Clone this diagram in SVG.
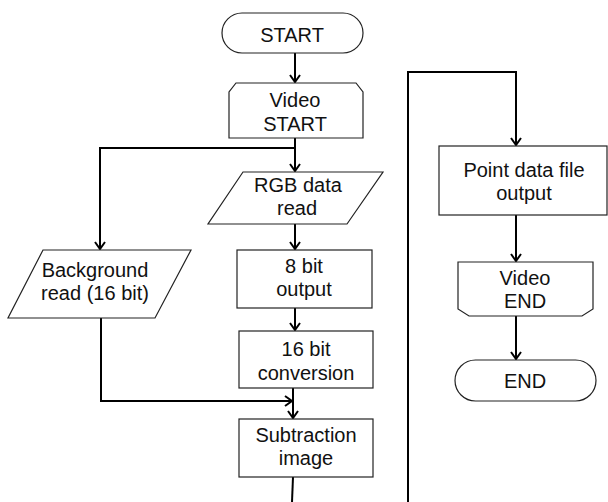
<svg xmlns="http://www.w3.org/2000/svg" width="608" height="502" viewBox="0 0 608 502">
<style>
.box{fill:#fff;stroke:#222;stroke-width:1.2}
.conn{fill:none;stroke:#000;stroke-width:2}
text{font-family:"Liberation Sans",Arial,sans-serif;font-size:20px;fill:#111;text-anchor:middle}
</style>
<defs>
<marker id="arr" viewBox="-9 -7 11 14" refX="0" refY="0" markerWidth="11" markerHeight="14" markerUnits="userSpaceOnUse" orient="auto">
<path d="M-7,-5 L0,0 L-7,5" fill="none" stroke="#000" stroke-width="2"/>
</marker>
</defs>
<rect width="608" height="502" fill="#fff"/>
<g id="connectors">
<path class="conn" d="M295,53 V82" marker-end="url(#arr)"/>
<path class="conn" d="M295,138 V171" marker-end="url(#arr)"/>
<path class="conn" d="M295,148 H100 V249" marker-end="url(#arr)"/>
<path class="conn" d="M295,224 V249" marker-end="url(#arr)"/>
<path class="conn" d="M295,308 V330" marker-end="url(#arr)"/>
<path class="conn" d="M293,388 V418" marker-end="url(#arr)"/>
<path class="conn" d="M101,318 V401 H292" marker-end="url(#arr)"/>
<path class="conn" d="M293,477 L292,502"/>
<path class="conn" d="M408,502 V72 H516 V145" marker-end="url(#arr)"/>
<path class="conn" d="M516,215 V261" marker-end="url(#arr)"/>
<path class="conn" d="M516,316 V359" marker-end="url(#arr)"/>
</g>
<g id="start">
<rect class="box" x="222" y="13" width="141" height="40" rx="20"/>
<text x="292" y="42">START</text>
</g>
<g id="video-start">
<path class="box" d="M236,83 H356 L363,92 V138 H229 V92 Z"/>
<text x="295" y="107">Video</text>
<text x="295" y="131">START</text>
</g>
<g id="rgb-read">
<path class="box" d="M243,172 H383 L347,224 H208 Z"/>
<text x="298" y="192">RGB data</text>
<text x="297" y="215">read</text>
</g>
<g id="bg-read">
<path class="box" d="M43,250 H191 L155,318 H8 Z"/>
<text x="95" y="277">Background</text>
<text x="95" y="300">read (16 bit)</text>
</g>
<g id="out8">
<rect class="box" x="237" y="250" width="135" height="58"/>
<text x="304" y="273">8 bit</text>
<text x="304" y="296">output</text>
</g>
<g id="conv16">
<rect class="box" x="239" y="331" width="134" height="57"/>
<text x="306" y="356">16 bit</text>
<text x="306" y="380">conversion</text>
</g>
<g id="subtraction">
<rect class="box" x="239" y="419" width="134" height="58"/>
<text x="306" y="442">Subtraction</text>
<text x="306" y="465">image</text>
</g>
<g id="point-output">
<rect class="box" x="439" y="146" width="168" height="69"/>
<text x="524" y="177">Point data file</text>
<text x="524" y="200">output</text>
</g>
<g id="video-end">
<path class="box" d="M458,262 H593 V309 L582,316 H469 L458,309 Z"/>
<text x="525" y="285">Video</text>
<text x="525" y="308">END</text>
</g>
<g id="end">
<rect class="box" x="455" y="360" width="141" height="41" rx="20.5"/>
<text x="525" y="388">END</text>
</g>
</svg>
